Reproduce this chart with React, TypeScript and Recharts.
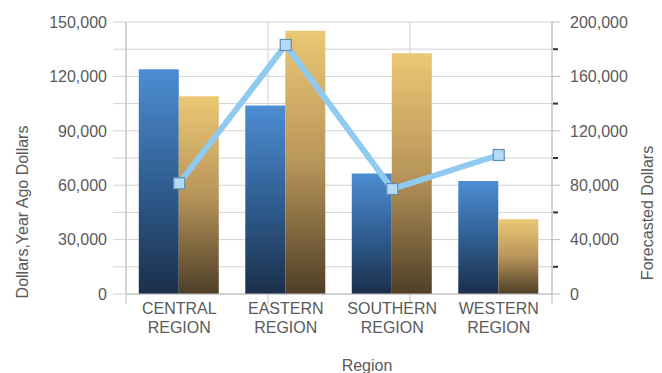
import React from 'react';
import { ComposedChart, Bar, Line, XAxis, YAxis, CartesianGrid } from 'recharts';

const regions = ['CENTRAL REGION', 'EASTERN REGION', 'SOUTHERN REGION', 'WESTERN REGION'];
const dollars = [124000, 104000, 66500, 62300];
const yearAgoDollars = [109000, 145200, 132700, 41200];
const forecastedDollars = [81400, 183100, 77200, 102200];
const leftTicks = [0, 15000, 30000, 45000, 60000, 75000, 90000, 105000, 120000, 135000, 150000];
const rightTicks = [0, 20000, 40000, 60000, 80000, 100000, 120000, 140000, 160000, 180000, 200000];
const boundaryTicks = [0, 1, 2, 3, 4];

const data = regions.map((r, i) => ({
  region: r,
  dollars: dollars[i],
  yearAgo: yearAgoDollars[i],
  forecast: forecastedDollars[i],
}));

const FONT = '"Liberation Sans", Arial, sans-serif';
const TEXT = '#5a5a5a';
const GRID = '#d3d3d3';
const AXIS = '#bdbdbd';

const fmt = (v: number) => v.toLocaleString('en-US');

const LeftTick = (props: any) => {
  const { x, y, payload } = props;
  const v = payload.value as number;
  return (
    <g>
      <line x1={x - 13} x2={x} y1={y} y2={y} stroke={GRID} strokeWidth={1} />
      {v % 30000 === 0 && (
        <text x={x - 19} y={y} dy="0.36em" textAnchor="end" fill={TEXT} fontSize={16} fontFamily={FONT}>
          {fmt(v)}
        </text>
      )}
    </g>
  );
};

const RightTick = (props: any) => {
  const { x, y, payload } = props;
  const v = payload.value as number;
  const major = v % 40000 === 0;
  return (
    <g>
      {major ? (
        <line x1={x} x2={x + 8} y1={y} y2={y} stroke={AXIS} strokeWidth={1} />
      ) : (
        <line x1={x + 1} x2={x + 6} y1={y} y2={y} stroke="#333" strokeWidth={2} />
      )}
      {major && (
        <text x={x + 18} y={y} dy="0.36em" textAnchor="start" fill={TEXT} fontSize={16} fontFamily={FONT}>
          {fmt(v)}
        </text>
      )}
    </g>
  );
};

const BoundaryTick = (props: any) => {
  const { x, y } = props;
  return <line x1={x} x2={x} y1={y - 1} y2={y + 9} stroke={AXIS} strokeWidth={1} />;
};

const CategoryTick = (props: any) => {
  const { x, y, payload } = props;
  const parts = String(payload.value).split(' ');
  return (
    <g>
      <text x={x} y={y + 20} textAnchor="middle" fill={TEXT} fontSize={16} fontFamily={FONT}>
        {parts[0]}
      </text>
      <text x={x} y={y + 39} textAnchor="middle" fill={TEXT} fontSize={16} fontFamily={FONT}>
        {parts[1]}
      </text>
    </g>
  );
};

const SquareDot = (props: any) => {
  const { cx, cy } = props;
  if (cx == null || cy == null) return null;
  return <rect x={cx - 5.5} y={cy - 5.5} width={11} height={11} fill="#b3dbf7" stroke="#5f8fb3" strokeWidth={1.2} />;
};

const RegionLabel = (props: any) => {
  const { viewBox } = props;
  const cx = viewBox.x + viewBox.width / 2 + 28;
  return (
    <text x={cx} y={371} textAnchor="middle" fill={TEXT} fontSize={16} fontFamily={FONT}>
      Region
    </text>
  );
};

const LeftTitle = () => (
  <text
    x={22}
    y={212}
    transform="rotate(-90 22 212)"
    textAnchor="middle"
    dominantBaseline="central"
    fill={TEXT}
    fontSize={16}
    fontFamily={FONT}
  >
    Dollars,Year Ago Dollars
  </text>
);

const RightTitle = () => (
  <text
    x={647}
    y={213}
    transform="rotate(-90 647 213)"
    textAnchor="middle"
    dominantBaseline="central"
    fill={TEXT}
    fontSize={16}
    fontFamily={FONT}
  >
    Forecasted Dollars
  </text>
);

export default function App() {
  return (
    <div style={{ position: 'absolute', left: 0, top: 0, width: 662, height: 373, background: '#fff' }}>
      <ComposedChart
        width={662}
        height={373}
        data={data}
        margin={{ top: 22, right: 0, bottom: 0, left: 0 }}
        barCategoryGap="12%"
        barGap={0}
      >
        <defs>
          <linearGradient id="gBlue" x1="0" y1="0" x2="0" y2="1">
            <stop offset="0%" stopColor="#4d8dd3" />
            <stop offset="50%" stopColor="#305f93" />
            <stop offset="100%" stopColor="#1b2f4a" />
          </linearGradient>
          <linearGradient id="gGold" x1="0" y1="0" x2="0" y2="1">
            <stop offset="0%" stopColor="#ebc874" />
            <stop offset="50%" stopColor="#b8955a" />
            <stop offset="100%" stopColor="#4e3f27" />
          </linearGradient>
        </defs>
        <XAxis
          xAxisId="b"
          type="number"
          domain={[0, 4]}
          ticks={boundaryTicks}
          height={78}
          tick={<BoundaryTick />}
          tickSize={0}
          tickMargin={0}
          tickLine={false}
          axisLine={false}
          interval={0}
          allowDataOverflow
        />
        <CartesianGrid xAxisId="b" yAxisId="left" stroke={GRID} strokeWidth={1} />
        <XAxis
          dataKey="region"
          height={1}
          tick={<CategoryTick />}
          tickLine={false}
          tickSize={0}
          tickMargin={0}
          axisLine={{ stroke: AXIS }}
          interval={0}
          label={<RegionLabel />}
        />
        <YAxis
          yAxisId="left"
          orientation="left"
          width={126}
          domain={[0, 150000]}
          ticks={leftTicks}
          tick={<LeftTick />}
          tickLine={false}
          tickSize={0}
          tickMargin={0}
          axisLine={{ stroke: AXIS }}
          interval={0}
          label={<LeftTitle />}
        />
        <YAxis
          yAxisId="right"
          orientation="right"
          width={110}
          domain={[0, 200000]}
          ticks={rightTicks}
          tick={<RightTick />}
          tickLine={false}
          tickSize={0}
          tickMargin={0}
          axisLine={{ stroke: AXIS }}
          interval={0}
          label={<RightTitle />}
        />
        <Bar yAxisId="left" dataKey="dollars" name="Dollars" fill="url(#gBlue)" isAnimationActive={false} />
        <Bar yAxisId="left" dataKey="yearAgo" name="Year Ago Dollars" fill="url(#gGold)" isAnimationActive={false} />
        <Line
          yAxisId="right"
          dataKey="forecast"
          name="Forecasted Dollars"
          type="linear"
          stroke="#90caf1"
          strokeWidth={6}
          dot={<SquareDot />}
          activeDot={false}
          isAnimationActive={false}
        />
      </ComposedChart>
    </div>
  );
}
